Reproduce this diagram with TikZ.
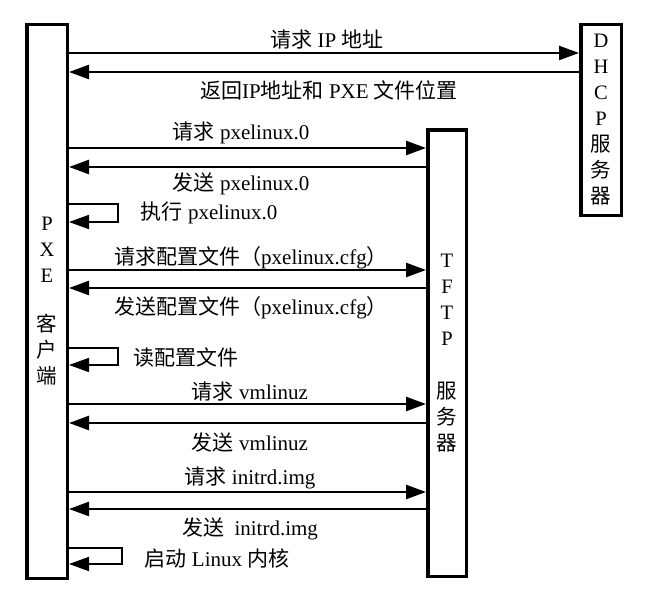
\documentclass[tikz,border=0pt]{standalone}
\usepackage{fontspec}
\setmainfont{Liberation Serif}
\newfontfamily\cjk{Noto Sans CJK SC}
\usetikzlibrary{arrows.meta}
\begin{document}
\begin{tikzpicture}[x=1pt,y=-1pt,
  box/.style={draw, line width=3.5pt, outer sep=1.75pt, inner sep=0pt, align=center, font=\fontsize{20.5}{26}\selectfont},
  msg/.style={line width=2.6pt, -{Triangle[length=20pt,width=14pt]}},
  selfmsg/.style={line width=1.8pt, -{Triangle[length=20pt,width=14pt]}},
  lbl/.style={font=\fontsize{21}{24}\selectfont, inner sep=0pt}]
\fill[white] (0,0) rectangle (655,591);
\useasboundingbox (0,0) rectangle (655,591);
% boxes
\node[box, minimum width=40.5pt, minimum height=553.5pt] (pxe) at (47,301.5)
  {P\\X\\E\\[23pt]{\cjk 客}\\{\cjk 户}\\{\cjk 端}};
\node[box, minimum width=40.5pt, minimum height=190.5pt] (dhcp) at (601,120)
  {D\\H\\C\\P\\{\cjk 服}\\{\cjk 务}\\{\cjk 器}};
\node[box, minimum width=38.5pt, minimum height=446.5pt] (tftp) at (447,353)
  {T\\F\\T\\P\\[27pt]{\cjk 服}\\{\cjk 务}\\{\cjk 器}};
% messages
\draw[msg] (pxe.east |- 0,53) -- (dhcp.west |- 0,53);
\draw[msg] (dhcp.west |- 0,72) -- (pxe.east |- 0,72);
\draw[msg] (pxe.east |- 0,148) -- (tftp.west |- 0,148);
\draw[msg] (tftp.west |- 0,167) -- (pxe.east |- 0,167);
\draw[selfmsg] (pxe.east |- 0,204) -- ++(49,0) -- ++(0,18) -- (pxe.east |- 0,222);
\draw[msg] (pxe.east |- 0,270) -- (tftp.west |- 0,270);
\draw[msg] (tftp.west |- 0,288) -- (pxe.east |- 0,288);
\draw[selfmsg] (pxe.east |- 0,348) -- ++(49,0) -- ++(0,17) -- (pxe.east |- 0,365);
\draw[msg] (pxe.east |- 0,404) -- (tftp.west |- 0,404);
\draw[msg] (tftp.west |- 0,423) -- (pxe.east |- 0,423);
\draw[msg] (pxe.east |- 0,492) -- (tftp.west |- 0,492);
\draw[msg] (tftp.west |- 0,509) -- (pxe.east |- 0,509);
\draw[selfmsg] (pxe.east |- 0,548) -- ++(53,0) -- ++(0,16) -- (pxe.east |- 0,564);
% labels
\node[lbl] (l1) at (327,40) {{\cjk 请求} IP {\cjk 地址}};
\node[lbl] (l2) at (329,90) {{\cjk 返回}IP{\cjk 地址和} PXE {\cjk 文件位置}};
\node[lbl] (l3) at (241,133) {{\cjk 请求} pxelinux.0};
\node[lbl] (l4) at (241,184) {{\cjk 发送} pxelinux.0};
\node[lbl] (l5) at (209,213) {{\cjk 执行} pxelinux.0};
\node[lbl] (l6) at (251,258) {{\cjk 请求配置文件（}pxelinux.cfg{\cjk ）}};
\node[lbl] (l7) at (251,308) {{\cjk 发送配置文件（}pxelinux.cfg{\cjk ）}};
\node[lbl] (l8) at (186,357) {{\cjk 读配置文件}};
\node[lbl] (l9) at (250,392) {{\cjk 请求} vmlinuz};
\node[lbl] (l10) at (250,443) {{\cjk 发送} vmlinuz};
\node[lbl] (l11) at (250,478) {{\cjk 请求} initrd.img};
\node[lbl] (l12) at (250,529) {{\cjk 发送}\ \ initrd.img};
\node[lbl] (l13) at (217,558) {{\cjk 启动} Linux {\cjk 内核}};
\end{tikzpicture}
\end{document}
